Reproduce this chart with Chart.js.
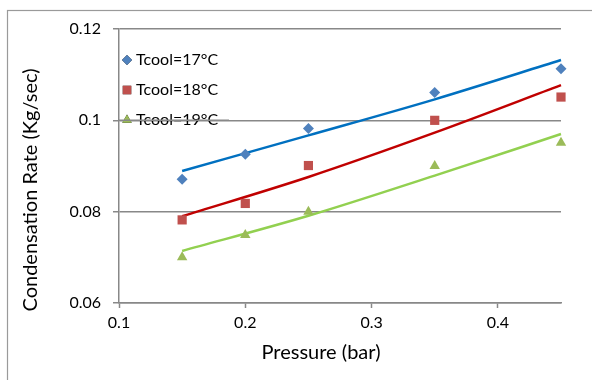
<!DOCTYPE html>
<html>
<head>
<meta charset="utf-8">
<script src="https://cdn.jsdelivr.net/npm/chart.js@4/dist/chart.umd.min.js"></script>
<style>
html,body{margin:0;padding:0;background:#fff;}
#wrap{position:relative;width:592px;height:380px;}
</style>
</head>
<body>
<div id="wrap"><canvas id="c" width="592" height="380"></canvas></div>
<script>
// Data
const pressure = [0.15, 0.2, 0.25, 0.35, 0.45];
const seriesNames = ['Tcool=17°C', 'Tcool=18°C', 'Tcool=19°C'];
const rate17 = [0.0871, 0.0926, 0.0982, 0.1061, 0.1113];
const rate18 = [0.0782, 0.0818, 0.0901, 0.1000, 0.1051];
const rate19 = [0.0700, 0.0749, 0.0800, 0.0900, 0.0951];
// Trendlines
const trendX = [0.15, 0.25, 0.35, 0.45];
const trend17 = [0.0889, 0.0967, 0.1046, 0.1132];
const trend18 = [0.0790, 0.0876, 0.0973, 0.1077];
const trend19 = [0.0714, 0.0791, 0.0879, 0.0970];
const xTicks = [0.1, 0.2, 0.3, 0.4];
const yTicks = [0.06, 0.08, 0.1, 0.12];
const xTitle = 'Pressure (bar)';
const yTitle = 'Condensation Rate (Kg/sec)';

const FONT = 'Lato, "Open Sans", sans-serif';
const GRID = '#888888';

const pts = (xs, ys) => xs.map((x, i) => ({x: x, y: ys[i]}));

const markerColors = ['#4F81BD', '#C0504D', '#9BBB59'];
const lineColors = ['#0070C0', '#C00000', '#92D050'];
const markerStyles = ['rectRot', 'rect', 'triangle'];
const markerRadius = [5.5, 6.5, 6];

const scatterData = [rate17, rate18, rate19];
const trendData = [trend17, trend18, trend19];

const datasets = [];
for (let i = 0; i < 3; i++) {
  datasets.push({
    label: seriesNames[i],
    data: pts(pressure, scatterData[i]),
    showLine: false,
    pointStyle: markerStyles[i],
    pointRadius: markerRadius[i],
    pointHoverRadius: markerRadius[i],
    backgroundColor: markerColors[i],
    borderColor: markerColors[i],
    borderWidth: 0,
    clip: false,
    order: 0
  });
}
for (let i = 0; i < 3; i++) {
  datasets.push({
    label: 'trend' + i,
    data: pts(trendX, trendData[i]),
    showLine: true,
    pointRadius: 0,
    borderColor: lineColors[i],
    borderWidth: 2.5,
    fill: false,
    cubicInterpolationMode: 'monotone',
    clip: false,
    order: 1
  });
}

const frame = {
  id: 'frame',
  beforeDraw(chart) {
    const ctx = chart.ctx;
    ctx.save();
    ctx.fillStyle = '#fff';
    ctx.fillRect(0, 0, chart.width, chart.height);
    ctx.strokeStyle = '#9a9a9a';
    ctx.lineWidth = 1.2;
    ctx.strokeRect(7.5, 10.5, 800, 800);
    ctx.restore();
  },
  afterDraw(chart) {
    const ctx = chart.ctx;
    ctx.save();
    ctx.fillStyle = '#000';
    ctx.font = '20px ' + FONT;
    ctx.textAlign = 'center';
    ctx.textBaseline = 'middle';
    ctx.fillText(xTitle, 321, 353);
    ctx.translate(31, 190);
    ctx.rotate(-Math.PI / 2);
    ctx.fillText(yTitle, 0, 0);
    ctx.restore();
  }
};

const innerLegend = {
  id: 'innerLegend',
  beforeDatasetsDraw(chart) {
    const ctx = chart.ctx;
    const area = chart.chartArea;
    ctx.save();
    ctx.font = '16px ' + FONT;
    ctx.textBaseline = 'middle';
    for (let i = 0; i < 3; i++) {
      const cy = area.top + 31 + i * 30;
      const cx = area.left + 8;
      Chart.helpers.drawPoint(ctx, {
        pointStyle: markerStyles[i],
        radius: markerRadius[i] - 0.5,
        borderWidth: 0
      }, cx, cy);
      ctx.fillStyle = markerColors[i];
      ctx.fill();
      ctx.fillStyle = '#000';
      ctx.fillText(seriesNames[i], area.left + 17, cy);
    }
    const y = chart.scales.y.getPixelForValue(0.1);
    ctx.strokeStyle = GRID;
    ctx.lineWidth = 1.5;
    ctx.beginPath();
    ctx.moveTo(area.left, y);
    ctx.lineTo(area.left + 110, y);
    ctx.stroke();
    ctx.restore();
  }
};

new Chart(document.getElementById('c'), {
  type: 'scatter',
  data: {datasets: datasets},
  plugins: [frame, innerLegend],
  options: {
    responsive: false,
    animation: false,
    devicePixelRatio: 1,
    layout: {padding: {left: 0, top: 29, right: 31, bottom: 0}},
    plugins: {legend: {display: false}, tooltip: {enabled: false}},
    scales: {
      x: {
        type: 'linear',
        min: 0.1, max: 0.45,
        afterBuildTicks: s => { s.ticks = xTicks.map(v => ({value: v})); },
        afterFit: s => { s.height = 77; },
        grid: {drawOnChartArea: false, drawTicks: true, tickLength: 5, tickColor: GRID, tickWidth: 1.5},
        border: {color: GRID, width: 1.5},
        ticks: {color: '#000', font: {family: FONT, size: 16}, padding: 5, maxRotation: 0,
          callback: v => String(v)},
        title: {display: false}
      },
      y: {
        type: 'linear',
        min: 0.06, max: 0.12,
        afterBuildTicks: s => { s.ticks = yTicks.map(v => ({value: v})); },
        afterFit: s => { s.width = 119; },
        grid: {color: GRID, lineWidth: 1.5, drawTicks: true, tickLength: 6, tickColor: GRID, tickWidth: 1.5},
        border: {color: GRID, width: 1.5},
        ticks: {color: '#000', font: {family: FONT, size: 16}, padding: 12,
          callback: v => String(+v.toFixed(2))},
        title: {display: false}
      }
    }
  }
});
</script>
</body>
</html>
